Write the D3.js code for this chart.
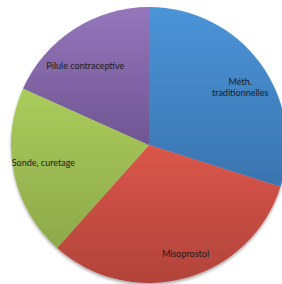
<!DOCTYPE html>
<html>
<head>
<meta charset="utf-8">
<script src="https://cdn.jsdelivr.net/npm/d3@7"></script>
<style>
  body { margin: 0; background: #fff; }
  svg { display: block; }
</style>
</head>
<body>
<div id="container"></div>
<script>
/* DATA */
const categories = ["Méth. traditionnelles", "Misoprostol", "Sonde, curetage", "Pilule contraceptive"]
const values = [29.9, 31.7, 20.1, 18.3]
const lightColors = ["#4b94d8", "#da564a", "#aacc5c", "#9576bb"]
const darkColors = ["#3a74b0", "#b1433a", "#8ea94a", "#6f5592"]

/* CONSTANTS */
const width = 282,
  height = 284,
  cx = 149,
  cy = 145,
  radius = 138

// small label nudges, the way excel placed them
const nudge = {
  "Méth. traditionnelles": [4, 6],
  "Misoprostol": [8, 5],
  "Sonde, curetage": [0, -5],
  "Pilule contraceptive": [-5, 11]
}

const data = categories.map((c, i) => ({ name: c, value: values[i], i: i }))

const svg = d3.select("#container")
  .append("svg")
  .attr("width", width)
  .attr("height", height)

const defs = svg.append("defs")

// per-slice vertical gradients
lightColors.forEach((c, i) => {
  const g = defs.append("linearGradient")
    .attr("id", "grad" + i)
    .attr("x1", 0).attr("y1", 0)
    .attr("x2", 0).attr("y2", 1)
  g.append("stop").attr("offset", "0%").attr("stop-color", c)
  g.append("stop").attr("offset", "100%").attr("stop-color", darkColors[i])
})

// soft shadow
const filt = defs.append("filter").attr("id", "shadow")
  .attr("x", "-10%").attr("y", "-10%").attr("width", "120%").attr("height", "120%")
filt.append("feGaussianBlur").attr("in", "SourceAlpha").attr("stdDeviation", 1.5)
filt.append("feOffset").attr("dx", 0).attr("dy", 1.5).attr("result", "b")
filt.append("feComponentTransfer").append("feFuncA").attr("type", "linear").attr("slope", 0.35)
const merge = filt.append("feMerge")
merge.append("feMergeNode")
merge.append("feMergeNode").attr("in", "SourceGraphic")

const pie = d3.pie()
  .value(d => d.value)
  .sort(null)

const arc = d3.arc()
  .innerRadius(0)
  .outerRadius(radius)

const labelArc = d3.arc()
  .innerRadius(0)
  .outerRadius(216)

const g = svg.append("g")
  .attr("transform", `translate(${cx},${cy})`)

g.append("g")
  .attr("filter", "url(#shadow)")
  .selectAll("path")
  .data(pie(data))
  .join("path")
  .attr("d", arc)
  .attr("fill", d => `url(#grad${d.data.i})`)

// labels
const labels = g.selectAll("text.label")
  .data(pie(data))
  .join("text")
  .attr("class", "label")
  .attr("transform", d => {
    const [x, y] = labelArc.centroid(d)
    const n = nudge[d.data.name]
    return `translate(${x + n[0]},${y + n[1]})`
  })
  .attr("text-anchor", "middle")
  .style("font-family", "Lato, sans-serif")
  .style("font-size", "9px")
  .attr("fill", "#1b1b1b")

labels.each(function (d) {
  const t = d3.select(this)
  if (d.data.name === "Méth. traditionnelles") {
    t.append("tspan").attr("x", 0).attr("dy", "-0.25em").text("Méth.")
    t.append("tspan").attr("x", 0).attr("dy", "1.2em").text("traditionnelles")
  } else {
    t.append("tspan").attr("x", 0).attr("dy", "0.35em").text(d.data.name)
  }
})
</script>
</body>
</html>
